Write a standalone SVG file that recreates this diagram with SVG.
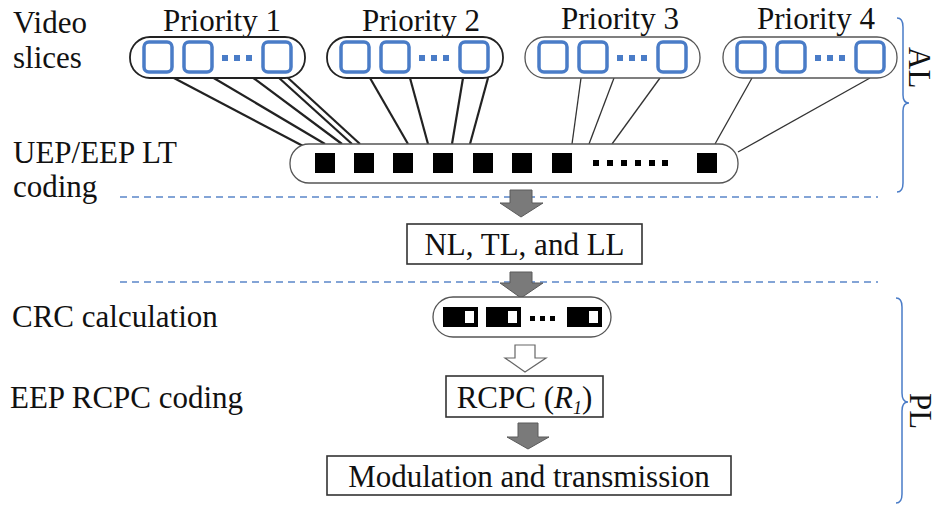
<svg xmlns="http://www.w3.org/2000/svg" width="937" height="506" viewBox="0 0 937 506" font-family="'Liberation Serif', 'Times New Roman', Times, 'DejaVu Serif', serif">
<defs>
<style>
text{font-family:'Liberation Serif','Times New Roman',Times,'DejaVu Serif',serif;font-size:31px;fill:#111}
.grp{fill:#fff;stroke:#222;stroke-width:1.8}
.grp2{fill:#fff;stroke:#555;stroke-width:1.3}
.sq{fill:#fff;stroke:#4a7cc7;stroke-width:3.5}
.dot{fill:#4a7cc7}
.box{fill:#fff;stroke:#333;stroke-width:1.6}
.blk{fill:#000}
.arr{fill:#7a7a7a;stroke:#5a5a5a;stroke-width:1}
.dash{stroke:#5b86c9;stroke-width:1.3;stroke-dasharray:7 5;fill:none}
.brace{fill:none;stroke:#4a7cc7;stroke-width:1.5}
.ln{stroke:#222;stroke-width:2.2;fill:none}
.ln2{stroke:#333;stroke-width:1.3;fill:none}
</style>
<g id="slices">
<rect class="sq" x="14" y="5" width="28" height="30" rx="5"/>
<rect class="sq" x="54" y="5" width="28" height="30" rx="5"/>
<rect class="dot" x="92" y="18" width="6" height="6"/>
<rect class="dot" x="104" y="18" width="6" height="6"/>
<rect class="dot" x="116" y="18" width="6" height="6"/>
<rect class="sq" x="133" y="5" width="28" height="30" rx="5"/>
</g>
</defs>
<rect width="937" height="506" fill="#fff"/>

<g id="labels">
<text x="13" y="33">Video</text>
<text x="13" y="68">slices</text>
<text x="13" y="163">UEP/EEP LT</text>
<text x="13" y="197">coding</text>
<text x="12" y="327">CRC calculation</text>
<text x="10" y="408">EEP RCPC coding</text>
</g>

<g id="dashes">
<line class="dash" x1="120" y1="197" x2="878" y2="197"/>
<line class="dash" x1="120" y1="282" x2="878" y2="282"/>
</g>

<g id="connectors">
<line class="ln" x1="172" y1="77" x2="303" y2="146"/>
<line class="ln" x1="212" y1="77" x2="325" y2="144"/>
<line class="ln" x1="252" y1="77" x2="342" y2="144"/>
<line class="ln" x1="278" y1="77" x2="352" y2="144"/>
<line class="ln" x1="287" y1="77" x2="360" y2="144"/>
<line class="ln" x1="370" y1="78" x2="408" y2="144"/>
<line class="ln" x1="410" y1="78" x2="428" y2="144"/>
<line class="ln" x1="463" y1="78" x2="452" y2="144"/>
<line class="ln" x1="488" y1="78" x2="470" y2="144"/>
<line class="ln2" x1="581" y1="78" x2="572" y2="144"/>
<line class="ln2" x1="614" y1="78" x2="589" y2="144"/>
<line class="ln2" x1="660" y1="78" x2="612" y2="144"/>
<line class="ln2" x1="752" y1="78" x2="715" y2="144"/>
<line class="ln2" x1="870" y1="78" x2="738" y2="152"/>
<polygon class="arr" points="510,190 532,190 532,203 543,203 521,217 500,203 510,203"/>
<polygon class="arr" points="510,272 532,272 532,283 543,283 521,298 500,283 510,283"/>
<polygon points="515,345 535,345 535,358 546,358 525,372 505,358 515,358" fill="#fff" stroke="#666" stroke-width="1.2"/>
<polygon class="arr" points="518,423 538,423 538,437 549,437 528,449 507,437 518,437"/>
</g>

<g id="priority1">
<text x="222" y="31" text-anchor="middle">Priority 1</text>
<rect class="grp" x="130" y="37" width="175" height="41" rx="20"/>
<use href="#slices" x="130" y="37"/>
</g>
<g id="priority2">
<text x="421" y="31" text-anchor="middle">Priority 2</text>
<rect class="grp" x="327" y="37" width="176" height="41" rx="20"/>
<use href="#slices" x="327" y="37"/>
</g>
<g id="priority3">
<text x="620" y="29" text-anchor="middle">Priority 3</text>
<rect class="grp2" x="525" y="37" width="175" height="41" rx="20"/>
<use href="#slices" x="525" y="37"/>
</g>
<g id="priority4">
<text x="816" y="29" text-anchor="middle">Priority 4</text>
<rect class="grp2" x="723" y="37" width="174" height="41" rx="20"/>
<use href="#slices" x="723" y="37"/>
</g>

<g id="lt-coding">
<rect class="grp2" x="290" y="144" width="448" height="39" rx="19"/>
<rect class="blk" x="315" y="153" width="20" height="20"/>
<rect class="blk" x="354" y="153" width="20" height="20"/>
<rect class="blk" x="393" y="153" width="20" height="20"/>
<rect class="blk" x="433" y="153" width="20" height="20"/>
<rect class="blk" x="473" y="153" width="20" height="20"/>
<rect class="blk" x="512" y="153" width="20" height="20"/>
<rect class="blk" x="552" y="153" width="20" height="20"/>
<rect class="blk" x="593" y="160" width="6" height="6"/>
<rect class="blk" x="607" y="160" width="6" height="6"/>
<rect class="blk" x="621" y="160" width="6" height="6"/>
<rect class="blk" x="635" y="160" width="6" height="6"/>
<rect class="blk" x="649" y="160" width="6" height="6"/>
<rect class="blk" x="662" y="160" width="6" height="6"/>
<rect class="blk" x="697" y="153" width="20" height="20"/>
</g>

<g id="nl-tl-ll">
<rect class="box" x="407" y="224" width="235" height="40"/>
<text x="524.5" y="255" text-anchor="middle">NL, TL, and LL</text>
</g>

<g id="crc">
<rect class="grp2" x="433" y="297" width="178" height="40" rx="20"/>
<rect class="blk" x="443" y="307" width="35" height="20"/>
<rect fill="#fff" x="465" y="311" width="9" height="12"/>
<rect class="blk" x="486" y="307" width="35" height="20"/>
<rect fill="#fff" x="508" y="311" width="9" height="12"/>
<rect class="blk" x="530" y="316" width="5" height="5"/>
<rect class="blk" x="540" y="316" width="5" height="5"/>
<rect class="blk" x="550" y="316" width="5" height="5"/>
<rect class="blk" x="567" y="307" width="35" height="20"/>
<rect fill="#fff" x="589" y="311" width="9" height="12"/>
</g>

<g id="rcpc">
<rect class="box" x="446" y="376" width="157" height="41"/>
<text x="524.5" y="408" text-anchor="middle">RCPC (<tspan font-style="italic">R</tspan><tspan font-style="italic" font-size="18" dy="6">1</tspan><tspan dy="-6">)</tspan></text>
</g>

<g id="modulation">
<rect class="box" x="327" y="456" width="404" height="39"/>
<text x="529" y="487" text-anchor="middle">Modulation and transmission</text>
</g>

<g id="AL">
<path class="brace" d="M897 18 Q903 18 903 27 L903 95 Q903 103 909 103 Q903 103 903 111 L903 183 Q903 192 897 192"/>
<text transform="translate(909,47) rotate(90)">AL</text>
</g>
<g id="PL">
<path class="brace" d="M896 298 Q902 298 902 307 L902 393 Q902 402 908 402 Q902 402 902 411 L902 494 Q902 503 896 503"/>
<text transform="translate(910,393) rotate(90)">PL</text>
</g>
</svg>
